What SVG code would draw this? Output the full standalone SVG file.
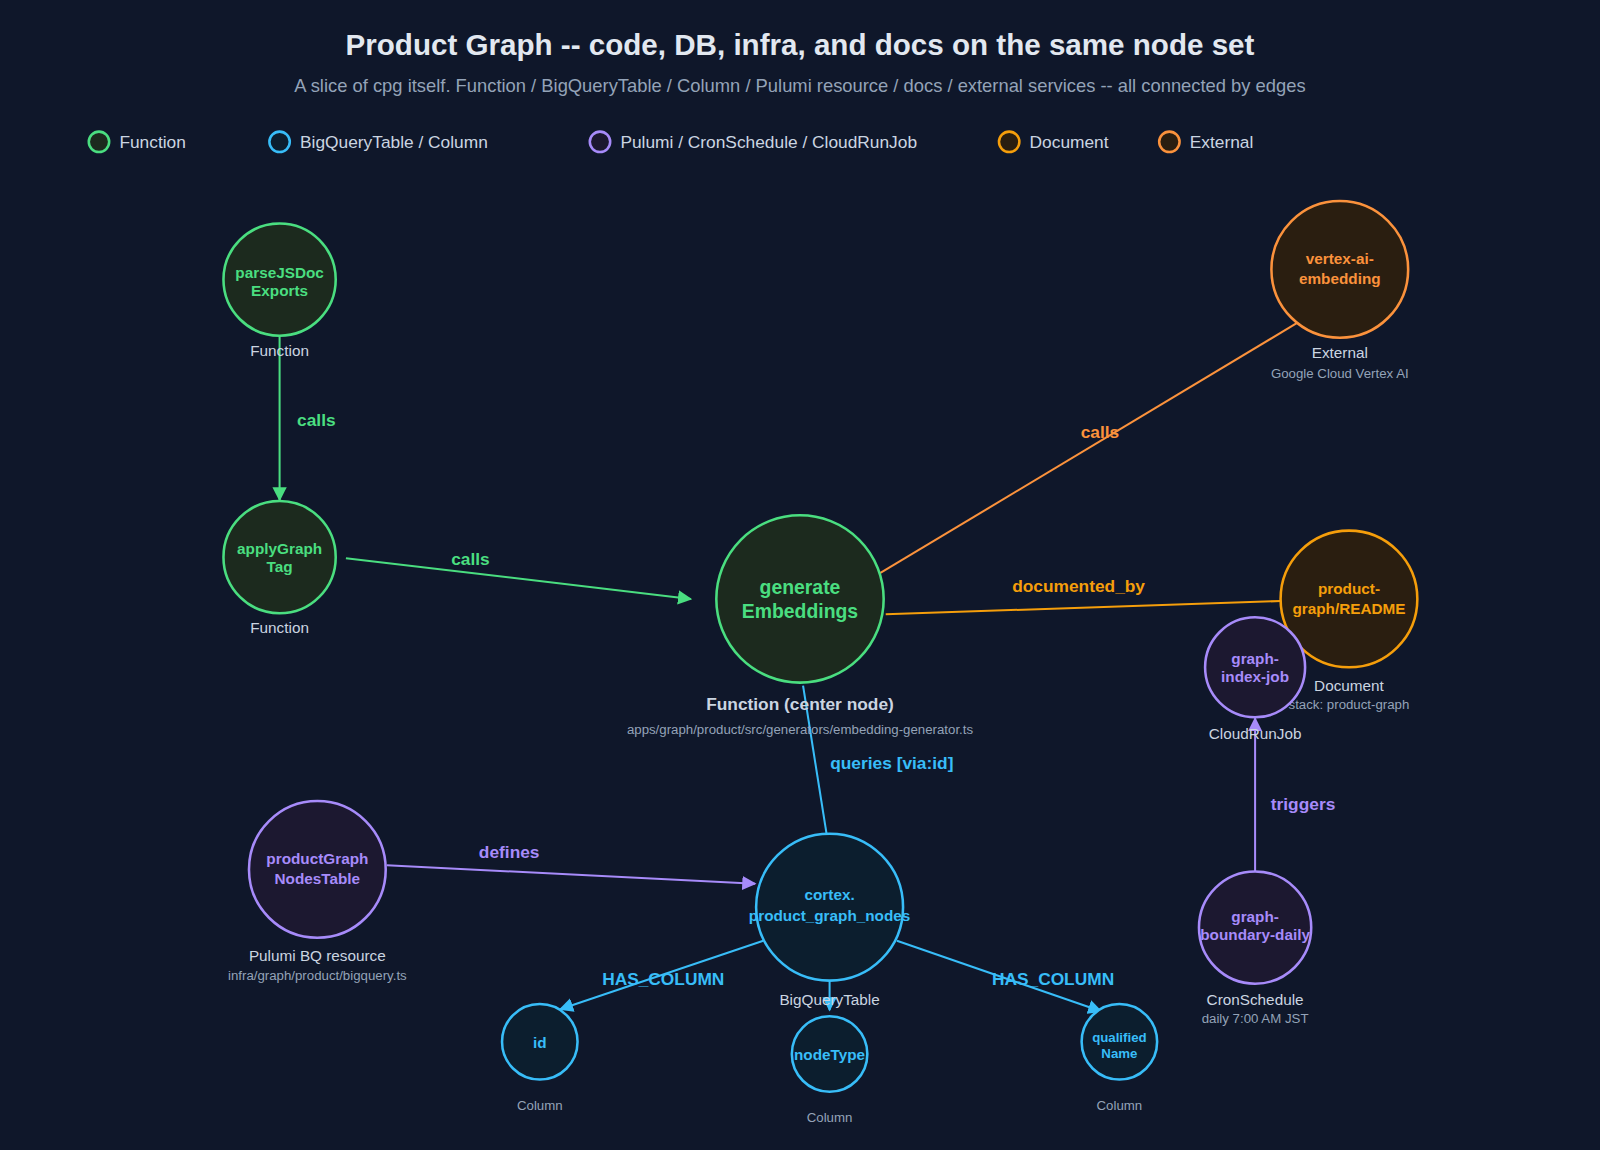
<svg xmlns="http://www.w3.org/2000/svg" width="1600" height="1150" viewBox="0 0 1600 1150">
<style>
text{font-family:"Liberation Sans",Arial,sans-serif;text-anchor:middle}
.t{font-size:29px;font-weight:bold;fill:#e2e8f0}
.st{font-size:18px;fill:#94a3b8}
.lg{font-size:17px;fill:#cbd5e1;text-anchor:start}
.nl{font-size:15px;font-weight:bold}
.ty{font-size:15px;fill:#cbd5e1}
.sub{font-size:13px;fill:#94a3b8}
.el{font-size:17px;font-weight:bold}
.g{stroke:#4ade80;fill:#1c2a1e}.gt{fill:#4ade80}
.b{stroke:#38bdf8;fill:#0c1e2e}.bt{fill:#38bdf8}
.p{stroke:#a78bfa;fill:#1c1830}.pt{fill:#a78bfa}
.a{stroke:#f59e0b;fill:#2a1e10}.at{fill:#f59e0b}
.o{stroke:#fb923c;fill:#2a1e10}.ot{fill:#fb923c}
circle{stroke-width:2.5}
line{stroke-width:2}
</style>
<defs>
<marker id="mg" viewBox="0 0 10 10" refX="9" refY="5" markerWidth="7" markerHeight="7" orient="auto"><path d="M0,0L10,5L0,10z" fill="#4ade80"/></marker>
<marker id="mb" viewBox="0 0 10 10" refX="9" refY="5" markerWidth="7" markerHeight="7" orient="auto"><path d="M0,0L10,5L0,10z" fill="#38bdf8"/></marker>
<marker id="mp" viewBox="0 0 10 10" refX="9" refY="5" markerWidth="7" markerHeight="7" orient="auto"><path d="M0,0L10,5L0,10z" fill="#a78bfa"/></marker>
</defs>
<rect width="1600" height="1150" fill="#0f172a"/>
<g transform="scale(1.0204)">
<text class="t" x="784" y="54">Product Graph -- code, DB, infra, and docs on the same node set</text>
<text class="st" x="784" y="90">A slice of cpg itself. Function / BigQueryTable / Column / Pulumi resource / docs / external services -- all connected by edges</text>
<g id="legend">
<circle cx="97" cy="139" r="10" class="g" stroke-width="2"/><text class="lg" x="117" y="145">Function</text>
<circle cx="274" cy="139" r="10" class="b" stroke-width="2"/><text class="lg" x="294" y="145">BigQueryTable / Column</text>
<circle cx="588" cy="139" r="10" class="p" stroke-width="2"/><text class="lg" x="608" y="145">Pulumi / CronSchedule / CloudRunJob</text>
<circle cx="989" cy="139" r="10" class="a" stroke-width="2"/><text class="lg" x="1009" y="145">Document</text>
<circle cx="1146" cy="139" r="10" class="o" stroke-width="2"/><text class="lg" x="1166" y="145">External</text>
</g>
<g id="connectors">
<line x1="274" y1="329" x2="274" y2="490" stroke="#4ade80" marker-end="url(#mg)"/>
<text class="el gt" x="310" y="417">calls</text>
<line x1="339" y1="547" x2="677" y2="587" stroke="#4ade80" marker-end="url(#mg)"/>
<text class="el gt" x="461" y="554">calls</text>
<line x1="862" y1="562" x2="1272" y2="316" stroke="#fb923c"/>
<text class="el ot" x="1078" y="429">calls</text>
<line x1="868" y1="602" x2="1255" y2="589" stroke="#f59e0b"/>
<text class="el at" x="1057" y="580">documented_by</text>
<line x1="787" y1="672" x2="810" y2="817" stroke="#38bdf8"/>
<text class="el bt" x="874" y="754">queries [via:id]</text>
<line x1="1230" y1="854" x2="1230" y2="704" stroke="#a78bfa" marker-end="url(#mp)"/>
<text class="el pt" x="1277" y="794">triggers</text>
<line x1="379" y1="848" x2="740" y2="866" stroke="#a78bfa" marker-end="url(#mp)"/>
<text class="el pt" x="499" y="841">defines</text>
<line x1="748" y1="922" x2="549" y2="989" stroke="#38bdf8" marker-end="url(#mb)"/>
<text class="el bt" x="650" y="965">HAS_COLUMN</text>
<line x1="813" y1="962" x2="813" y2="990" stroke="#38bdf8" marker-end="url(#mb)"/>
<line x1="879" y1="922" x2="1079" y2="991" stroke="#38bdf8" marker-end="url(#mb)"/>
<text class="el bt" x="1032" y="965">HAS_COLUMN</text>
</g>
<g id="parseJSDocExports"><circle cx="274" cy="274" r="55" class="g"/><text class="nl gt" x="274" y="272">parseJSDoc</text><text class="nl gt" x="274" y="290">Exports</text><text class="ty" x="274" y="349">Function</text></g>
<g id="applyGraphTag"><circle cx="274" cy="546" r="55" class="g"/><text class="nl gt" x="274" y="543">applyGraph</text><text class="nl gt" x="274" y="561">Tag</text><text class="ty" x="274" y="620">Function</text></g>
<g id="generateEmbeddings"><circle cx="784" cy="587" r="82" class="g" stroke-width="4"/><text class="gt" font-size="19" font-weight="bold" x="784" y="582">generate</text><text class="gt" font-size="19" font-weight="bold" x="784" y="606">Embeddings</text><text x="784" y="696" font-size="17" font-weight="bold" fill="#cbd5e1">Function (center node)</text><text class="sub" x="784" y="719">apps/graph/product/src/generators/embedding-generator.ts</text></g>
<g id="vertexAiEmbedding"><circle cx="1313" cy="264" r="67" class="o"/><text class="nl ot" x="1313" y="259">vertex-ai-</text><text class="nl ot" x="1313" y="278">embedding</text><text class="ty" x="1313" y="351">External</text><text class="sub" x="1313" y="370">Google Cloud Vertex AI</text></g>
<g id="productGraphReadme"><circle cx="1322" cy="587" r="67" class="a"/><text class="nl at" x="1322" y="582">product-</text><text class="nl at" x="1322" y="602">graph/README</text><text class="ty" x="1322" y="677">Document</text><text class="sub" x="1322" y="695">stack: product-graph</text></g>
<g id="graphIndexJob"><circle cx="1230" cy="654" r="49" class="p"/><text class="nl pt" x="1230" y="651">graph-</text><text class="nl pt" x="1230" y="668">index-job</text><text class="ty" x="1230" y="724">CloudRunJob</text></g>
<g id="graphBoundaryDaily"><circle cx="1230" cy="909" r="55" class="p"/><text class="nl pt" x="1230" y="904">graph-</text><text class="nl pt" x="1230" y="921">boundary-daily</text><text class="ty" x="1230" y="985">CronSchedule</text><text class="sub" x="1230" y="1003">daily 7:00 AM JST</text></g>
<g id="productGraphNodesTable"><circle cx="311" cy="852" r="67" class="p"/><text class="nl pt" x="311" y="847">productGraph</text><text class="nl pt" x="311" y="866">NodesTable</text><text class="ty" x="311" y="942">Pulumi BQ resource</text><text class="sub" x="311" y="960">infra/graph/product/bigquery.ts</text></g>
<g id="cortexProductGraphNodes"><circle cx="813" cy="889" r="72" class="b"/><text class="nl bt" x="813" y="882">cortex.</text><text class="nl bt" x="813" y="903">product_graph_nodes</text><text class="ty" x="813" y="985">BigQueryTable</text></g>
<g id="colId"><circle cx="529" cy="1021" r="37" class="b" stroke-width="2"/><text class="nl bt" x="529" y="1027">id</text><text class="sub" x="529" y="1088">Column</text></g>
<g id="colNodeType"><circle cx="813" cy="1033" r="37" class="b" stroke-width="2"/><text class="nl bt" x="813" y="1039">nodeType</text><text class="sub" x="813" y="1100">Column</text></g>
<g id="colQualifiedName"><circle cx="1097" cy="1021" r="37" class="b" stroke-width="2"/><text class="bt" font-size="13" font-weight="bold" x="1097" y="1021">qualified</text><text class="bt" font-size="13" font-weight="bold" x="1097" y="1037">Name</text><text class="sub" x="1097" y="1088">Column</text></g>
</g>
</svg>
